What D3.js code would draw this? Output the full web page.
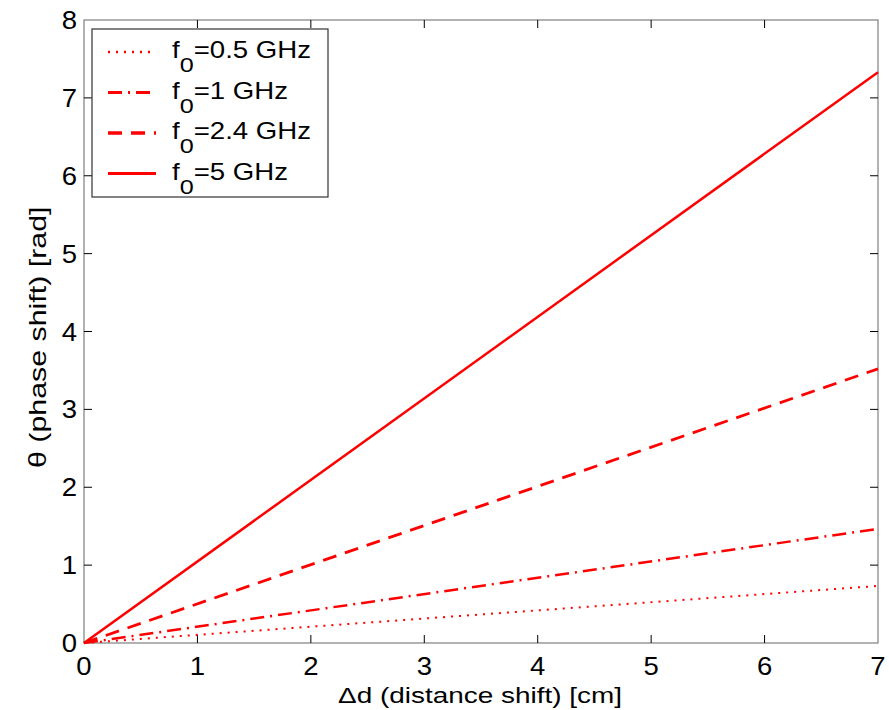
<!DOCTYPE html>
<html>
<head>
<meta charset="utf-8">
<script src="https://cdn.jsdelivr.net/npm/d3@7"></script>
<style>
  body { margin: 0; background: #fff; }
  svg { font-family: "Liberation Sans", Arial, sans-serif; }
</style>
</head>
<body>
<div id="chart"></div>
<script>
// distance shift [cm] and phase shift [rad] for each frequency
const distance = [0, 7];
const freqLabels = ["0.5 GHz", "1 GHz", "2.4 GHz", "5 GHz"];
const phase05 = [0, 0.733];
const phase1 = [0, 1.466];
const phase24 = [0, 3.52];
const phase5 = [0, 7.33];
const xTicks = [0, 1, 2, 3, 4, 5, 6, 7];
const yTicks = [0, 1, 2, 3, 4, 5, 6, 7, 8];

const series = [
  { label: freqLabels[0], values: phase05, dash: "2,6", width: 2 },
  { label: freqLabels[1], values: phase1, dash: "14,6,2,6", width: 2.5 },
  { label: freqLabels[2], values: phase24, dash: "14,9", width: 2.8 },
  { label: freqLabels[3], values: phase5, dash: null, width: 2.5 },
];

const width = 889, height = 710;
const margin = { top: 20, right: 11, bottom: 67, left: 84 };

const svg = d3.select("#chart").append("svg")
  .attr("width", width)
  .attr("height", height);

const x = d3.scaleLinear().domain([0, 7]).range([margin.left, width - margin.right]);
const y = d3.scaleLinear().domain([0, 8]).range([height - margin.bottom, margin.top]);

// frame
svg.append("rect")
  .attr("x", x(0)).attr("y", y(8))
  .attr("width", x(7) - x(0)).attr("height", y(0) - y(8))
  .attr("fill", "none").attr("stroke", "#7f7f7f").attr("stroke-width", 1.2);

// ticks (inward, on both sides)
const tickLen = 8;
const tg = svg.append("g").attr("stroke", "#000").attr("stroke-width", 1);
xTicks.forEach(t => {
  if (t === 0 || t === 7) return;
  tg.append("line").attr("x1", x(t)).attr("x2", x(t)).attr("y1", y(0)).attr("y2", y(0) - tickLen);
  tg.append("line").attr("x1", x(t)).attr("x2", x(t)).attr("y1", y(8)).attr("y2", y(8) + tickLen);
});
yTicks.forEach(t => {
  if (t === 0 || t === 8) return;
  tg.append("line").attr("x1", x(0)).attr("x2", x(0) + tickLen).attr("y1", y(t)).attr("y2", y(t));
  tg.append("line").attr("x1", x(7)).attr("x2", x(7) - tickLen).attr("y1", y(t)).attr("y2", y(t));
});

// tick labels
svg.append("g").selectAll("text").data(xTicks).join("text")
  .attr("transform", d => `translate(${x(d)},${y(0) + 32}) scale(1.1,1)`)
  .attr("text-anchor", "middle").attr("font-size", 25)
  .text(d => d);
svg.append("g").selectAll("text").data(yTicks).join("text")
  .attr("transform", d => `translate(${x(0) - 7},${y(d) + 9}) scale(1.1,1)`)
  .attr("text-anchor", "end").attr("font-size", 25)
  .text(d => d);

// axis labels (the source font is wide, so stretch along the baseline)
svg.append("text")
  .attr("transform", "translate(338,703) scale(1.27,1)")
  .attr("font-size", 22)
  .text("\u0394d (distance shift) [cm]");
svg.append("text")
  .attr("transform", "translate(46,468) rotate(-90) scale(1.32,1)")
  .attr("font-size", 23)
  .text("\u03b8 (phase shift) [rad]");

// lines
const line = d3.line().x((d, i) => x(distance[i])).y(d => y(d));
svg.append("g").selectAll("path").data(series).join("path")
  .attr("d", d => line(d.values))
  .attr("fill", "none")
  .attr("stroke", "#ff0000")
  .attr("stroke-width", d => d.width)
  .attr("stroke-dasharray", d => d.dash);

// legend
const lg = svg.append("g");
lg.append("rect")
  .attr("x", 92).attr("y", 29).attr("width", 236).attr("height", 168)
  .attr("fill", "#fff").attr("stroke", "#333").attr("stroke-width", 1.2);
series.forEach((s, i) => {
  const cy = 52 + i * 40.5;
  lg.append("line")
    .attr("x1", 108).attr("x2", 156).attr("y1", cy).attr("y2", cy)
    .attr("stroke", "#ff0000").attr("stroke-width", s.width + 0.5)
    .attr("stroke-dasharray", s.dash);
  const t = lg.append("text")
    .attr("transform", `translate(172,${cy + 6}) scale(1.2,1)`)
    .attr("font-size", 23);
  t.append("tspan").text("f");
  t.append("tspan").attr("dy", 14).attr("font-size", 21).text("0");
  t.append("tspan").attr("dy", -14).text("=" + s.label);
});
</script>
</body>
</html>
